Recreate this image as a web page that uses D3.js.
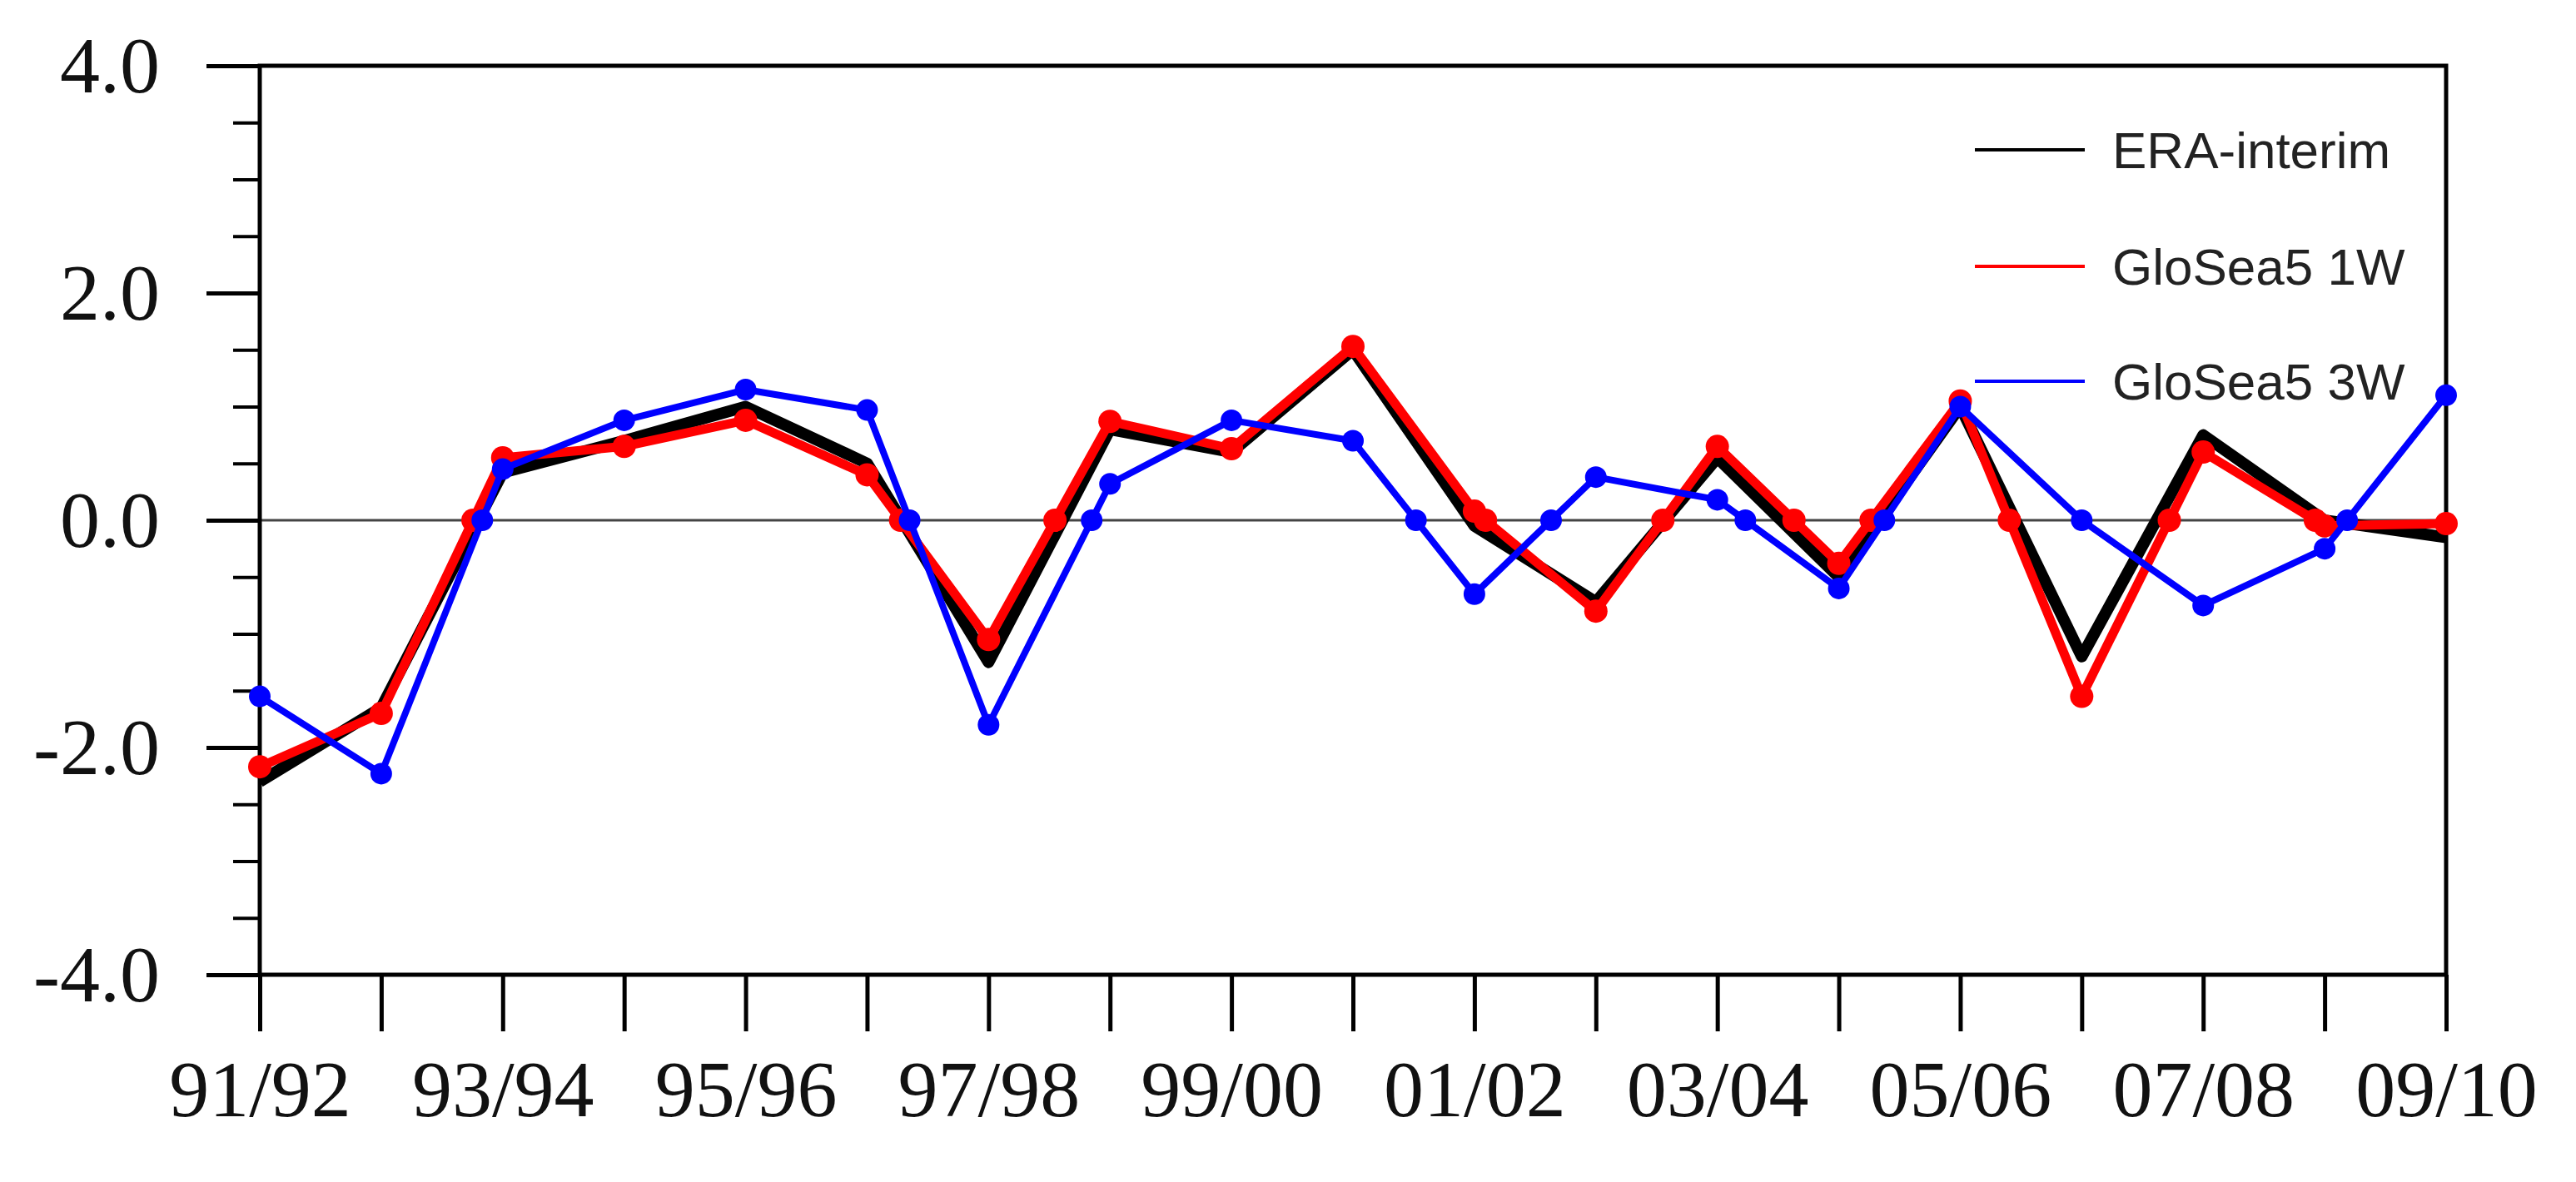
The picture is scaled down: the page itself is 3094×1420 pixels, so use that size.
<!DOCTYPE html>
<html><head><meta charset="utf-8">
<script src="https://cdn.jsdelivr.net/npm/d3@7"></script>
<style>body{margin:0;background:#fff}</style></head>
<body><svg id="c" width="3094" height="1420"></svg>
<script>
const years = ["91/92","92/93","93/94","94/95","95/96","96/97","97/98","98/99","99/00","00/01","01/02","02/03","03/04","04/05","05/06","06/07","07/08","08/09","09/10"];
const era = [-2.3,-1.65,0.42,0.7,1.0,0.5,-1.25,0.8,0.6,1.5,-0.05,-0.72,0.55,-0.5,1.0,-1.2,0.75,0.0,-0.15];
const w1 = [-2.17,-1.7,0.55,0.65,0.88,0.4,-1.05,0.87,0.63,1.53,0.08,-0.8,0.65,-0.38,1.05,-1.55,0.6,-0.05,-0.03];
const w3 = [-1.55,-2.23,0.45,0.88,1.15,0.97,-1.8,0.32,0.88,0.7,-0.65,0.38,0.18,-0.6,1.0,0.0,-0.75,-0.25,1.1];
const yTicks = [-4,-2,0,2,4];
const seriesNames = ["ERA-interim","GloSea5 1W","GloSea5 3W"];

const L=312,R=2938,T=79,B=1171;
const svg=d3.select("#c");
const x=d3.scaleLinear().domain([0,years.length-1]).range([L,R]);
const y=d3.scaleLinear().domain([-4,4]).range([B,T]);
const fmt=d=>d3.format(".1f")(d).replace("\u2212","-");

svg.append("g").attr("transform",`translate(${L},0)`)
 .call(d3.axisLeft(y).tickValues(d3.range(-4,4.01,0.5)).tickSize(32).tickFormat(""))
 .call(g=>{g.select(".domain").remove();g.selectAll("line").attr("stroke","#000").attr("stroke-width",4);});
svg.append("g").attr("transform",`translate(${L},0)`)
 .call(d3.axisLeft(y).tickValues(yTicks).tickSize(64).tickPadding(56).tickFormat(fmt))
 .call(g=>{g.select(".domain").remove();g.selectAll("line").attr("stroke","#000").attr("stroke-width",5);
  g.selectAll("text").attr("font-family","Liberation Serif").attr("font-size",96).attr("fill","#111").attr("dy","0.33em");});
svg.append("g").attr("transform",`translate(0,${B})`)
 .call(d3.axisBottom(x).tickValues(d3.range(years.length)).tickSize(68).tickPadding(34)
   .tickFormat(i=>i%2===0?years[i]:""))
 .call(g=>{g.select(".domain").remove();g.selectAll("line").attr("stroke","#000").attr("stroke-width",5);
  g.selectAll("text").attr("font-family","Liberation Serif").attr("font-size",96).attr("fill","#111");});
svg.append("line").attr("x1",L).attr("x2",R).attr("y1",y(0)).attr("y2",y(0)).attr("stroke","#444").attr("stroke-width",3);
svg.append("rect").attr("x",L).attr("y",T).attr("width",R-L).attr("height",B-T).attr("fill","none").attr("stroke","#000").attr("stroke-width",5);

const line=d3.line().x((d,i)=>x(i)).y(d=>y(d));
function crossings(vals){const pts=[];for(let i=0;i<vals.length-1;i++){const a=vals[i],b=vals[i+1];if(a*b<0){pts.push(i+a/(a-b));}}return pts;}
const series=[{v:era,c:"#000",w:14,r:0},{v:w1,c:"#ff0000",w:11,r:14},{v:w3,c:"#0000ff",w:8,r:13}];
series.forEach(s=>{
  svg.append("path").datum(s.v).attr("d",line).attr("fill","none").attr("stroke",s.c).attr("stroke-width",s.w).attr("stroke-linejoin","round");
  if(s.r>0){
    svg.selectAll(null).data(s.v).enter().append("circle").attr("cx",(d,i)=>x(i)).attr("cy",d=>y(d)).attr("r",s.r).attr("fill",s.c);
    svg.selectAll(null).data(crossings(s.v)).enter().append("circle").attr("cx",d=>x(d)).attr("cy",y(0)).attr("r",s.r).attr("fill",s.c);
  }
});
const lc=["#000","#ff0000","#0000ff"], ly=[180,320,458];
seriesNames.forEach((n,i)=>{
  svg.append("line").attr("x1",2372).attr("x2",2504).attr("y1",ly[i]).attr("y2",ly[i]).attr("stroke",lc[i]).attr("stroke-width",4);
  svg.append("text").attr("x",2537).attr("y",ly[i]).attr("dy","0.35em").attr("font-family","Liberation Sans").attr("font-size",62).attr("fill","#222").text(n);
});
</script></body></html>
